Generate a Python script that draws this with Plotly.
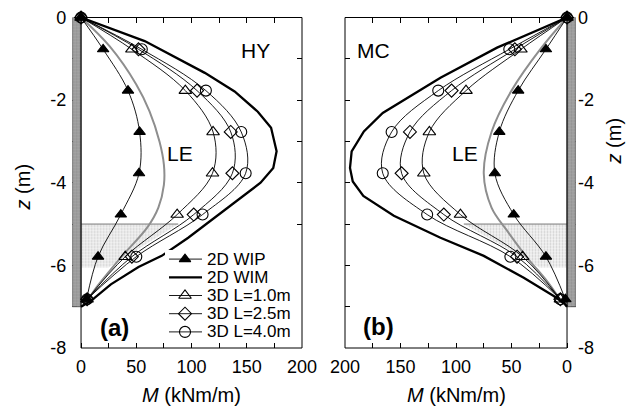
import plotly.graph_objects as go

# ---------------- data ----------------
depth_pts = [0, -0.77, -1.77, -2.77, -3.77, -4.77, -5.79, -6.82]

# (a) HY
wip_hy = [0, 20, 42.5, 53, 52.5, 36, 15.4, 5]
l10_hy = [0, 46, 94.4, 119.5, 119, 87, 40, 5.5]
l25_hy = [0, 52, 105, 135.5, 137, 102, 46, 5.5]
l40_hy = [0, 55, 113, 145, 149, 110, 50, 5.5]
wim_hy_z = [0, -0.57, -1.34, -1.79, -2.28, -2.67, -3.24, -3.64, -4.0, -4.48, -4.92, -5.33, -5.77, -6.04, -6.46, -6.86, -7.0]
wim_hy_m = [0, 57.6, 112, 139, 160, 172, 177, 174, 162.5, 139, 118, 97, 73, 52, 27, 9, 0]
le_hy_z = [0, -0.7, -1.62, -2.27, -3.0, -3.56, -4.05, -4.6, -5.08, -5.81, -6.46, -6.93, -7.0]
le_hy_m = [0, 26, 50, 62, 71, 75, 75, 70, 60, 36, 16, 3, 0]

# (b) MC
wip_mc = [0, 19, 44, 61, 65, 48, 19, 1.5]
l10_mc = [0, 41.5, 91, 124, 129, 96, 40, 6]
l25_mc = [0, 47, 104, 141.5, 149, 111, 45, 6]
l40_mc = [0, 52, 116, 158, 166, 126, 51, 6]
wim_mc_z = [0, -0.73, -1.46, -1.95, -2.31, -2.76, -3.24, -3.64, -3.97, -4.32, -4.8, -5.33, -5.77, -6.3, -6.74, -6.93, -7.0]
wim_mc_m = [0, 63, 114, 144, 166, 183, 194, 195.5, 193, 183.5, 156, 114, 75, 39, 12, 2, 0]
le_mc_z = [0, -0.73, -1.77, -2.77, -3.77, -4.6, -5.16, -5.81, -6.38, -6.86, -7.0]
le_mc_m = [0, 23, 50, 68, 75, 68, 54, 36, 18, 5, 0]

legend_labels = ["2D WIP", "2D WIM", "3D L=1.0m", "3D L=2.5m", "3D L=4.0m"]
m_ticks = [0, 25, 50, 75, 100, 125, 150, 175, 200]
m_ticktext = ["0", "", "50", "", "100", "", "150", "", "200"]
z_ticks = [0, -1, -2, -3, -4, -5, -6, -7, -8]
z_ticktext = ["0", "", "-2", "", "-4", "", "-6", "", "-8"]

# geometry constants (wall and soil)
pile_w = 8
pile_depth = -7
exc_depth = -5.0
soil_bottom = -6.05
M_MIN, M_MAX = -pile_w, 200
Z_MIN, Z_MAX = -8, 0

FONT = "Liberation Sans, Arial, sans-serif"
GREY = "#8e8e8e"

fig = go.Figure()

def add_panel(xa, ya, wip, l10, l25, l40, wim_z, wim_m, le_z, le_m, soil_edge):
    # soil (stippled)
    fig.add_trace(go.Scatter(
        x=[0, soil_edge, 40, 25, 0, 0], y=[exc_depth, exc_depth, -5.8, soil_bottom, soil_bottom, exc_depth],
        fill="toself", mode="lines", line=dict(width=0),
        fillcolor="#f0f0f0",
        fillpattern=dict(shape=".", fgcolor="#a8a8a8", bgcolor="#f4f4f4", size=3, solidity=0.35),
        xaxis=xa, yaxis=ya, showlegend=False, hoverinfo="skip"))
    fig.add_trace(go.Scatter(
        x=[0, soil_edge], y=[exc_depth, exc_depth], mode="lines",
        line=dict(color="#777777", width=1), xaxis=xa, yaxis=ya,
        showlegend=False, hoverinfo="skip"))
    # wall / pile
    fig.add_trace(go.Scatter(
        x=[-pile_w, 0, 0, -pile_w, -pile_w], y=[0, 0, pile_depth, pile_depth, 0],
        fill="toself", mode="lines", line=dict(color="#5a5a5a", width=1),
        fillcolor="#9a9a9a",
        fillpattern=dict(shape=".", fgcolor="#7a7a7a", bgcolor="#a4a4a4", size=3, solidity=0.4),
        xaxis=xa, yaxis=ya, showlegend=False, hoverinfo="skip"))
    # LE
    fig.add_trace(go.Scatter(x=le_m, y=le_z, mode="lines", line=dict(color=GREY, width=2, shape="spline"),
                             xaxis=xa, yaxis=ya, showlegend=False, hoverinfo="skip"))
    # 2D WIM
    fig.add_trace(go.Scatter(x=wim_m, y=wim_z, mode="lines", line=dict(color="black", width=2.3),
                             xaxis=xa, yaxis=ya, showlegend=False, hoverinfo="skip"))
    styles = [
        (wip, "triangle-up", 10, "black"),
        (l10, "triangle-up-open", 11, "black"),
        (l25, "diamond-open", 10, "black"),
        (l40, "circle-open", 11, "black"),
    ]
    for vals, sym, size, col in styles:
        fig.add_trace(go.Scatter(
            x=vals, y=depth_pts, mode="lines+markers",
            line=dict(color="black", width=0.9, shape="spline"),
            marker=dict(symbol=sym, size=size, color=col, line=dict(color="black", width=1.1)),
            cliponaxis=False, xaxis=xa, yaxis=ya, showlegend=False, hoverinfo="skip"))

add_panel("x", "y", wip_hy, l10_hy, l25_hy, l40_hy, wim_hy_z, wim_hy_m, le_hy_z, le_hy_m, 88)
add_panel("x2", "y2", wip_mc, l10_mc, l25_mc, l40_mc, wim_mc_z, wim_mc_m, le_mc_z, le_mc_m, 93)

# ---------------- manual legend ----------------
leg_styles = [
    ("triangle-up", 10, 0.9, "black"),
    (None, 0, 2.3, "black"),
    ("triangle-up-open", 11, 0.9, "black"),
    ("diamond-open", 10, 0.9, "black"),
    ("circle-open", 11, 0.9, "black"),
]
for i, (lab, (sym, size, lw, col)) in enumerate(zip(legend_labels, leg_styles)):
    fig.add_trace(go.Scatter(x=[4, 37], y=[i, i], mode="lines", line=dict(color=col, width=lw),
                             xaxis="x3", yaxis="y3", showlegend=False, hoverinfo="skip"))
    if sym:
        fig.add_trace(go.Scatter(x=[20], y=[i], mode="markers",
                                 marker=dict(symbol=sym, size=size, color="black", line=dict(color="black", width=1.1)),
                                 xaxis="x3", yaxis="y3", showlegend=False, hoverinfo="skip", cliponaxis=False))
    fig.add_annotation(x=40, y=i, xref="x3", yref="y3", text=lab, showarrow=False, height=17,
                       xanchor="left", yanchor="middle", font=dict(size=17, color="black", family=FONT))

W, H = 627, 408
def fx(px):
    return px / W
def fy(py):
    return 1 - py / H

ax_common = dict(showgrid=False, zeroline=False, showline=False, ticks="inside", ticklen=5,
                 tickwidth=1, tickcolor="black", mirror="ticks", layer="below traces", automargin=False,
                 tickfont=dict(size=18, family=FONT, color="black"), fixedrange=True)

ydom = [fy(348), fy(17.5)]
fig.update_layout(
    width=W, height=H, margin=dict(l=0, r=0, t=0, b=0, autoexpand=False),
    paper_bgcolor="white", plot_bgcolor="white", showlegend=False,
    font=dict(family=FONT, color="black"),
    xaxis=dict(domain=[fx(72.2), fx(302)], range=[M_MIN, M_MAX], anchor="y",
               tickvals=m_ticks, ticktext=m_ticktext, ticklabelstandoff=6, **ax_common),
    yaxis=dict(domain=ydom, range=[Z_MIN, Z_MAX], anchor="x", side="left",
               tickvals=z_ticks, ticktext=z_ticktext, ticklabelstandoff=5, **ax_common),
    xaxis2=dict(domain=[fx(345), fx(575.9)], range=[M_MAX, M_MIN], anchor="y2",
                tickvals=m_ticks, ticktext=m_ticktext, ticklabelstandoff=6, **ax_common),
    yaxis2=dict(domain=ydom, range=[Z_MIN, Z_MAX], anchor="x2", side="right",
                tickvals=z_ticks, ticktext=z_ticktext, ticklabelstandoff=1, **ax_common),
    xaxis3=dict(domain=[fx(165), fx(310)], range=[0, 145], visible=False, fixedrange=True,
                anchor="y3", automargin=False),
    yaxis3=dict(domain=[fy(341), fy(250)], range=[4.5, -0.5], visible=False, fixedrange=True,
                anchor="x3", automargin=False),
)

# frames (domain coords, so not clipped)
f0 = (0 - M_MIN) / (M_MAX - M_MIN)
fig.add_shape(type="rect", xref="x domain", yref="y domain", x0=f0, x1=1, y0=0, y1=1,
              line=dict(color="black", width=1), layer="above")
fig.add_shape(type="rect", xref="x2 domain", yref="y2 domain", x0=0, x1=1 - f0, y0=0, y1=1,
              line=dict(color="black", width=1), layer="above")

# text labels
lab_font = dict(size=21, family=FONT, color="black")
fig.add_annotation(x=158, y=-0.79, xref="x", yref="y", text="HY", showarrow=False, font=lab_font)
fig.add_annotation(x=90, y=-3.3, xref="x", yref="y", text="LE", showarrow=False, font=lab_font)
fig.add_annotation(x=174, y=-0.79, xref="x2", yref="y2", text="MC", showarrow=False, font=lab_font)
fig.add_annotation(x=92, y=-3.3, xref="x2", yref="y2", text="LE", showarrow=False, font=lab_font)
bold_font = dict(size=24, family=FONT, color="black")
fig.add_annotation(x=30, y=-7.5, xref="x", yref="y", text="<b>(a)</b>", showarrow=False, font=bold_font)
fig.add_annotation(x=170, y=-7.47, xref="x2", yref="y2", text="<b>(b)</b>", showarrow=False, font=bold_font)

title_font = dict(size=20, family=FONT, color="black")
fig.add_annotation(x=fx(191.5), y=fy(395), xref="paper", yref="paper", text="<i>M</i> (kNm/m)",
                   showarrow=False, font=title_font, xanchor="center", yanchor="middle")
fig.add_annotation(x=fx(456), y=fy(395), xref="paper", yref="paper", text="<i>M</i> (kNm/m)",
                   showarrow=False, font=title_font, xanchor="center", yanchor="middle")
fig.add_annotation(x=fx(23), y=fy(187.5), xref="paper", yref="paper", text="<i>z</i> (m)",
                   showarrow=False, font=title_font, textangle=-90, xanchor="center", yanchor="middle")
fig.add_annotation(x=fx(613.5), y=fy(141), xref="paper", yref="paper", text="<i>z</i> (m)",
                   showarrow=False, font=title_font, textangle=-90, xanchor="center", yanchor="middle")

fig.write_html("out.html")
